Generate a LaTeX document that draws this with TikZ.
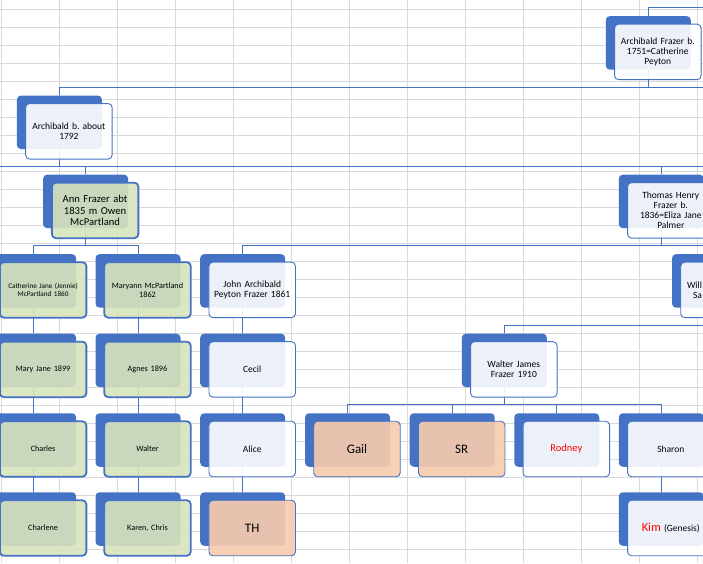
\documentclass[tikz,border=0pt]{standalone}
\usepackage{fontspec}
\setmainfont{Carlito}
\usepackage{tikz}
\usetikzlibrary{backgrounds}
\frenchspacing

\definecolor{sablue}{HTML}{4472C4}
\definecolor{cellgrid}{HTML}{D9D9D9}
\definecolor{leaf}{HTML}{D8E4BC}
\definecolor{peach}{HTML}{F8CBAD}

\tikzset{
  back/.style={fill=sablue, rounded corners=4pt, minimum width=85pt, minimum height=53.5pt, inner sep=0pt},
  card/.style={draw=sablue, line width=0.9pt, fill=white, fill opacity=0.9, text opacity=1, rounded corners=4pt,
    minimum width=86.5pt, minimum height=55.5pt, inner sep=0pt, text width=80pt, align=center},
  mcp/.style={card, fill=leaf, line width=1.8pt},
  gone/.style={card, fill=peach},
  link/.style={draw=sablue, line width=0.9pt},
  cell/.style={draw=cellgrid, line width=0.8pt},
  f7/.style={font=\fontsize{7.2}{8.3}\selectfont},
  f8/.style={font=\fontsize{8.2}{9}\selectfont},
  f9/.style={font=\fontsize{9.5}{10.2}\selectfont},
  f10/.style={font=\fontsize{10.6}{11.7}\selectfont},
  f13/.style={font=\fontsize{13}{15}\selectfont},
}

\begin{document}
\begin{tikzpicture}[x=1pt, y=-1pt]
    \useasboundingbox (0,0) rectangle (703,563);

    % generation 1 and 2
    \node[back] (top-bk) at (648.3,42.9) {};
    \node[card, f9] (top) at ([shift={(9.5pt,-9pt)}]top-bk.center) {Archibald Frazer b.\\1751=Catherine\\Peyton};
    \node[back] (arch-bk) at (59.4,122.3) {};
    \node[card, f9] (arch) at ([shift={(9.5pt,-9pt)}]arch-bk.center) {Archibald b. about\\1792};

    % generation 3
    \node[back] (ann-bk) at (85.6,201.4) {};
    \node[mcp, f10] (ann) at ([shift={(9.5pt,-9pt)}]ann-bk.center) {Ann Frazer abt\\1835 m Owen\\McPartland};
    \node[back] (thom-bk) at (661.3,201.4) {};
    \node[card, f9] (thom) at ([shift={(9.5pt,-9pt)}]thom-bk.center) {Thomas Henry\\Frazer b.\\1836=Eliza Jane\\Palmer};

    % generation 4
    \node[back] (cath-bk) at (33.6,280.9) {};
    \node[mcp, f7] (cath) at ([shift={(9.5pt,-9pt)}]cath-bk.center) {Catherine Jane (Jennie)\\McPartland 1860};
    \node[back] (mary-bk) at (138,280.9) {};
    \node[mcp, f8] (mary) at ([shift={(9.5pt,-9pt)}]mary-bk.center) {Maryann McPartland\\1862};
    \node[back] (john-bk) at (242.7,280.9) {};
    \node[card, f9] (john) at ([shift={(9.5pt,-9pt)}]john-bk.center) {John Archibald\\Peyton Frazer 1861};
    \node[back] (will-bk) at (714.5,280.9) {};
    \node[card, f9, text width=74pt, align=left] (will) at ([shift={(9.5pt,-9pt)}]will-bk.center) {Will\\\hspace*{6pt}Sa};

    % generation 5
    \node[back] (maryj-bk) at (33.6,360.4) {};
    \node[mcp, f8] (maryj) at ([shift={(9.5pt,-9pt)}]maryj-bk.center) {Mary Jane 1899};
    \node[back] (agnes-bk) at (138,360.4) {};
    \node[mcp, f8] (agnes) at ([shift={(9.5pt,-9pt)}]agnes-bk.center) {Agnes 1896};
    \node[back] (cecil-bk) at (242.7,360.4) {};
    \node[card, f9] (cecil) at ([shift={(9.5pt,-9pt)}]cecil-bk.center) {Cecil};
    \node[back] (waltj-bk) at (504.3,360.4) {};
    \node[card, f9] (waltj) at ([shift={(9.5pt,-9pt)}]waltj-bk.center) {Walter James\\Frazer 1910};

    % generation 6
    \node[back] (charles-bk) at (33.6,440) {};
    \node[mcp, f8] (charles) at ([shift={(9.5pt,-9pt)}]charles-bk.center) {Charles};
    \node[back] (walter-bk) at (138,440) {};
    \node[mcp, f8] (walter) at ([shift={(9.5pt,-9pt)}]walter-bk.center) {Walter};
    \node[back] (alice-bk) at (242.7,440) {};
    \node[card, f9] (alice) at ([shift={(9.5pt,-9pt)}]alice-bk.center) {Alice};
    \node[back] (gail-bk) at (347.5,440) {};
    \node[gone, f13] (gail) at ([shift={(9.5pt,-9pt)}]gail-bk.center) {Gail};
    \node[back] (sr-bk) at (452.2,440) {};
    \node[gone, f13] (sr) at ([shift={(9.5pt,-9pt)}]sr-bk.center) {SR};
    \node[back] (rod-bk) at (556.8,440) {};
    \node[card, font=\fontsize{10.5}{12}\selectfont, text=red] (rod) at ([shift={(9.5pt,-9pt)}]rod-bk.center) {Rodney};
    \node[back] (shar-bk) at (661.3,440) {};
    \node[card, f9] (shar) at ([shift={(9.5pt,-9pt)}]shar-bk.center) {Sharon};

    % generation 7
    \node[back] (charl-bk) at (33.6,519) {};
    \node[mcp, f8] (charl) at ([shift={(9.5pt,-9pt)}]charl-bk.center) {Charlene};
    \node[back] (karen-bk) at (138,519) {};
    \node[mcp, f8] (karen) at ([shift={(9.5pt,-9pt)}]karen-bk.center) {Karen, Chris};
    \node[back] (th-bk) at (242.7,519) {};
    \node[gone, f13] (th) at ([shift={(9.5pt,-9pt)}]th-bk.center) {TH};
    \node[back] (kim-bk) at (661.3,519) {};
    \node[card, f9] (kim) at ([shift={(9.5pt,-9pt)}]kim-bk.center) {{\fontsize{12.3}{14}\selectfont\color{red}Kim} (Genesis)};

    % sheet and connectors behind the boxes
    \begin{scope}[on background layer]
        \fill[white] (0,0) rectangle (703,563);
        \foreach \gx in {1.3,59.3,...,697.3} \draw[cell] (\gx,0) -- (\gx,563);
        \foreach \gy in {9.3,27.3,...,549.3} \draw[cell] (0,\gy) -- (703,\gy);

        \coordinate (edgeA) at (703,7);
        \coordinate (edgeB) at (703,87);
        \coordinate (edgeCw) at (0,166);
        \coordinate (edgeC) at (703,166);
        \coordinate (annbus) at (85.6,245.3);
        \coordinate (edgeD) at (703,245.3);
        \coordinate (edgeE) at (703,325.3);
        \coordinate (wjbus) at (504.3,404.3);

        \draw[link] (top-bk.north) |- (edgeA);
        \draw[link] (top-bk.south) -- (top-bk |- edgeB);
        \draw[link] (arch-bk.north) |- (edgeB);
        \draw[link] (edgeCw) -- (edgeC);
        \draw[link] (arch-bk.south) -- (arch-bk |- edgeC);
        \draw[link] (ann-bk.north) -- (ann-bk |- edgeC);
        \draw[link] (thom-bk.north) -- (thom-bk |- edgeC);
        \draw[link] (ann-bk.south) -- (annbus);
        \draw[link] (cath-bk.north) |- (annbus) -| (mary-bk.north);
        \draw[link] (thom-bk.south) -- (thom-bk |- edgeD);
        \draw[link] (john-bk.north) |- (edgeD);
        \draw[link] (waltj-bk.north) |- (edgeE);
        \draw[link] (waltj-bk.south) -- (wjbus);
        \draw[link] (gail-bk.north) |- (wjbus) -| (shar-bk.north);
        \draw[link] (sr-bk.north) -- (sr-bk |- wjbus);
        \draw[link] (rod-bk.north) -- (rod-bk |- wjbus);

        \draw[link] (cath-bk.south) -- (maryj-bk.north);
        \draw[link] (maryj-bk.south) -- (charles-bk.north);
        \draw[link] (charles-bk.south) -- (charl-bk.north);
        \draw[link] (mary-bk.south) -- (agnes-bk.north);
        \draw[link] (agnes-bk.south) -- (walter-bk.north);
        \draw[link] (walter-bk.south) -- (karen-bk.north);
        \draw[link] (john-bk.south) -- (cecil-bk.north);
        \draw[link] (cecil-bk.south) -- (alice-bk.north);
        \draw[link] (alice-bk.south) -- (th-bk.north);
        \draw[link] (shar-bk.south) -- (kim-bk.north);
    \end{scope}
\end{tikzpicture}
\end{document}
